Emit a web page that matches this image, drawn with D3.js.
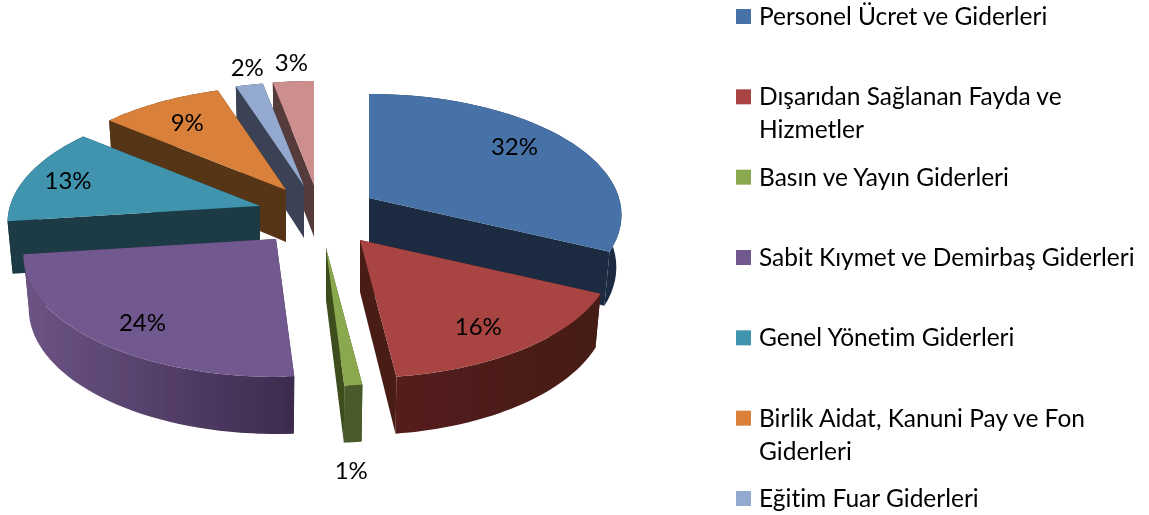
<!DOCTYPE html>
<html>
<head>
<meta charset="utf-8">
<script src="https://cdn.jsdelivr.net/npm/d3@7"></script>
<style>
html, body { margin: 0; background: #fff; }
svg { display: block; }
text { font-family: Lato, sans-serif; fill: #000; font-variant-ligatures: none; }
</style>
</head>
<body>
<svg id="chart" width="1149" height="515"></svg>
<script>
// the legend is cut off in the picture, the last slice has no visible name
var categories = [
  ["Personel Ücret ve Giderleri"],
  ["Dışarıdan Sağlanan Fayda ve", "Hizmetler"],
  ["Basın ve Yayın Giderleri"],
  ["Sabit Kıymet ve Demirbaş Giderleri"],
  ["Genel Yönetim Giderleri"],
  ["Birlik Aidat, Kanuni Pay ve Fon", "Giderleri"],
  ["Eğitim Fuar Giderleri"]
];
var values = [32, 16, 1, 24, 13, 9, 2, 3];

var topColors  = ["#4672a8", "#a84442", "#8aa84e", "#71588f", "#3f94ae", "#d9813b", "#93a9cf", "#cd8e8e"];
var cutColors  = ["#1a2b42", "#4a1b19", "#3c4d1f", "#3e2b4f", "#1a3a45", "#573417", "#3a4254", "#573a3a"];
var wallLeft   = ["#1a2b42", "#561f1b", "#4c5a29", "#6c5485", "#1a3a45", "#573417", "#3a4254", "#573a3a"];
var wallRight  = ["#1a2b42", "#451a18", "#4c5a29", "#3d2b4e", "#1a3a45", "#573417", "#3a4254", "#573a3a"];

// how far each slice is pulled out of the pie, in px
var pullX = [49, 40, 6, -44, -60, -34, -16, -6];
var pullY = [-14, 28, 36, 27, -6, -22, -26, -27];
var labelRadius = [0.79, 0.8, 1.18, 0.8, 0.79, 0.79, 1.17, 1.17];
var labelDx = [-12, -11, -8, 6, -8, 3, 6, 1];
var labelDy = [-4, 2, -7, 3, 0, 3, -3, -4];
var drawOrder = [7, 6, 5, 0, 4, 3, 1, 2];

var cx = 320, cy = 212;
var rx = 250, ry = 118.6, depth = 52, persp = 0.14, bottomShrink = 0.98;

var svg = d3.select("#chart");
var defs = svg.append("defs");
defs.append("filter").attr("id", "soft")
  .append("feGaussianBlur").attr("stdDeviation", 0.45);

var arcs = d3.pie().sort(null)(values);

// angle is clockwise from the back of the pie, h = 0 top face, 1 bottom face
var project = function(i, frac, angle, h){
  var X = Math.sin(angle) * frac, Z = -Math.cos(angle) * frac;
  var s = 1 / (1 - persp * Z);
  return [cx + pullX[i] + rx * X * s,
          cy + pullY[i] + ry * Z * s + depth * h * s];
};

var line = d3.line();
var chart = svg.append("g").attr("filter", "url(#soft)");

drawOrder.forEach(function(i){
  var a = arcs[i];
  var angles = d3.range(0, 41).map(function(k){
    return a.startAngle + (a.endAngle - a.startAngle) * k / 40;
  });
  var rimTop = angles.map(function(t){ return project(i, 1, t, 0); });
  var rimBottom = angles.map(function(t){ return project(i, bottomShrink, t, 1); });
  var apexTop = project(i, 0, 0, 0), apexBottom = project(i, 0, 0, 1);

  var grad = defs.append("linearGradient").attr("id", "wall" + i)
    .attr("gradientUnits", "userSpaceOnUse")
    .attr("x1", d3.min(rimTop, function(p){ return p[0]; })).attr("y1", 0)
    .attr("x2", d3.max(rimTop, function(p){ return p[0]; })).attr("y2", 0);
  grad.append("stop").attr("offset", 0).attr("stop-color", wallLeft[i]);
  grad.append("stop").attr("offset", 1).attr("stop-color", wallRight[i]);

  var g = chart.append("g");
  [0, rimTop.length - 1].forEach(function(e){
    g.append("path")
      .attr("d", line([apexTop, rimTop[e], rimBottom[e], apexBottom]) + "Z")
      .attr("fill", cutColors[i]);
  });
  g.append("path")
    .attr("d", line(rimTop.concat(rimBottom.slice().reverse())) + "Z")
    .attr("fill", "url(#wall" + i + ")");
  g.append("path")
    .attr("d", line([apexTop].concat(rimTop)) + "Z")
    .attr("fill", topColors[i]);
});

// percent labels sit on the slice bisector
var labels = svg.append("g").attr("filter", "url(#soft)");
arcs.forEach(function(a, i){
  var mid = (a.startAngle + a.endAngle) / 2;
  var onWall = labelRadius[i] > 1 && Math.cos(mid) < 0;
  var p = project(i, labelRadius[i], mid, onWall ? 1 : 0);
  labels.append("text")
    .attr("x", p[0] + labelDx[i]).attr("y", p[1] + labelDy[i])
    .attr("dy", "0.36em")
    .attr("text-anchor", "middle")
    .attr("font-size", 24)
    .text(d3.format(".0%")(values[i] / d3.sum(values)));
});

// legend
var legendRow = d3.scaleLinear().domain([0, 6]).range([9, 491]);
var legend = svg.append("g").attr("filter", "url(#soft)");
categories.forEach(function(lines, i){
  var y = legendRow(i);
  legend.append("rect")
    .attr("x", 736).attr("y", y)
    .attr("width", 15).attr("height", 15)
    .attr("fill", topColors[i]);
  lines.forEach(function(t, k){
    legend.append("text")
      .attr("x", 759).attr("y", y + 16 + k * 33)
      .attr("font-size", 24.5)
      .text(t);
  });
});
</script>
</body>
</html>
